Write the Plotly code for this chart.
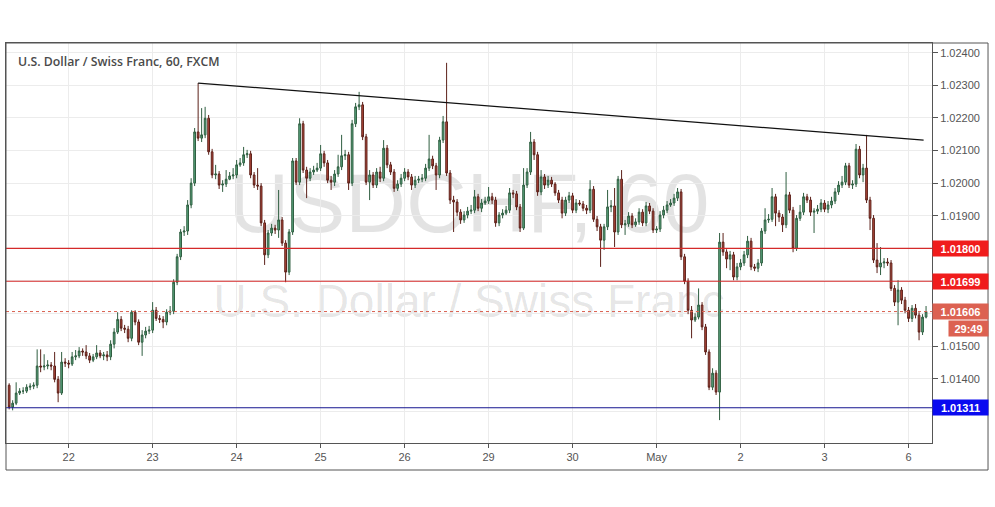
import plotly.graph_objects as go

# ---- hourly OHLC (USD/CHF, H1) ----
opens = [
 1.01380, 1.01313, 1.01325, 1.01356, 1.01362, 1.01362, 1.01374, 1.01377, 1.01380, 1.01439,
 1.01436, 1.01439, 1.01442, 1.01439, 1.01398, 1.01356, 1.01451, 1.01448, 1.01445, 1.01467,
 1.01470, 1.01485, 1.01482, 1.01470, 1.01457, 1.01467, 1.01479, 1.01470, 1.01473, 1.01467,
 1.01506, 1.01543, 1.01582, 1.01555, 1.01552, 1.01524, 1.01604, 1.01574, 1.01512, 1.01534,
 1.01546, 1.01549, 1.01610, 1.01585, 1.01582, 1.01574, 1.01604, 1.01607, 1.01696, 1.01774,
 1.01850, 1.01853, 1.01933, 1.02000, 1.02157, 1.02138, 1.02148, 1.02199, 1.02096, 1.02025,
 1.02028, 1.01994, 1.01997, 1.02012, 1.02022, 1.02025, 1.02056, 1.02062, 1.02087, 1.02090,
 1.02025, 1.01994, 1.01991, 1.01878, 1.01780, 1.01847, 1.01862, 1.01856, 1.01887, 1.01816,
 1.01727, 1.01850, 1.02068, 1.02003, 1.02182, 1.02040, 1.02015, 1.02034, 1.02040, 1.02046,
 1.02090, 1.02062, 1.02009, 1.02003, 1.02028, 1.02050, 1.02084, 1.02087, 1.02000, 1.02182,
 1.02234, 1.02240, 1.02142, 1.02003, 1.02025, 1.01994, 1.02034, 1.02015, 1.02107, 1.02056,
 1.02034, 1.01984, 1.01997, 1.02015, 1.02034, 1.02019, 1.01994, 1.02009, 1.02012, 1.02015,
 1.02046, 1.02074, 1.02053, 1.02025, 1.02132, 1.02188, 1.02031, 1.01948, 1.01942, 1.01911,
 1.01887, 1.01902, 1.01914, 1.01917, 1.01958, 1.01923, 1.01939, 1.01945, 1.01958, 1.01948,
 1.01878, 1.01902, 1.01908, 1.01917, 1.01970, 1.01967, 1.01927, 1.01862, 1.01994, 1.02034,
 1.02126, 1.02087, 1.01973, 1.02019, 1.01994, 1.02009, 1.01997, 1.01970, 1.01948, 1.01908,
 1.01948, 1.01961, 1.01917, 1.01939, 1.01936, 1.01923, 1.01917, 1.01981, 1.01889, 1.01866,
 1.01825, 1.01866, 1.01927, 1.01930, 1.01850, 1.02012, 1.01872, 1.01875, 1.01899, 1.01872,
 1.01881, 1.01911, 1.01878, 1.01930, 1.01914, 1.01856, 1.01859, 1.01902, 1.01917, 1.01933,
 1.01939, 1.01954, 1.01973, 1.01774, 1.01699, 1.01610, 1.01580, 1.01589, 1.01626, 1.01559,
 1.01482, 1.01374, 1.01417, 1.01359, 1.01819, 1.01789, 1.01767, 1.01780, 1.01712, 1.01743,
 1.01755, 1.01780, 1.01822, 1.01743, 1.01739, 1.01755, 1.01853, 1.01887, 1.01889, 1.01958,
 1.01908, 1.01896, 1.01872, 1.01964, 1.01917, 1.01800, 1.01892, 1.01911, 1.01958, 1.01948,
 1.01911, 1.01914, 1.01920, 1.01939, 1.01920, 1.01933, 1.01945, 1.01973, 1.01994, 1.02003,
 1.02053, 1.01994, 1.01997, 1.02104, 1.02025, 1.02046, 1.01948, 1.01892, 1.01764, 1.01743,
 1.01755, 1.01758, 1.01755, 1.01677, 1.01635, 1.01672, 1.01641, 1.01610, 1.01585, 1.01616,
 1.01595, 1.01543, 1.01589,
]
highs = [
 1.01386, 1.01334, 1.01389, 1.01371, 1.01374, 1.01383, 1.01386, 1.01389, 1.01490, 1.01490,
 1.01475, 1.01457, 1.01451, 1.01482, 1.01408, 1.01482, 1.01463, 1.01457, 1.01482, 1.01488,
 1.01497, 1.01493, 1.01503, 1.01479, 1.01476, 1.01503, 1.01488, 1.01482, 1.01485, 1.01518,
 1.01555, 1.01604, 1.01592, 1.01565, 1.01562, 1.01610, 1.01610, 1.01582, 1.01549, 1.01559,
 1.01562, 1.01635, 1.01620, 1.01595, 1.01592, 1.01613, 1.01623, 1.01705, 1.01783, 1.01859,
 1.01868, 1.01948, 1.02015, 1.02169, 1.02307, 1.02230, 1.02234, 1.02209, 1.02105, 1.02056,
 1.02037, 1.02009, 1.02040, 1.02034, 1.02046, 1.02071, 1.02077, 1.02111, 1.02102, 1.02099,
 1.02034, 1.02046, 1.02000, 1.01887, 1.01856, 1.01875, 1.01872, 1.01979, 1.01896, 1.01825,
 1.01859, 1.02077, 1.02077, 1.02199, 1.02191, 1.02050, 1.02046, 1.02053, 1.02062, 1.02117,
 1.02099, 1.02071, 1.02022, 1.02040, 1.02087, 1.02148, 1.02102, 1.02096, 1.02194, 1.02246,
 1.02280, 1.02249, 1.02151, 1.02040, 1.02034, 1.02046, 1.02050, 1.02132, 1.02117, 1.02065,
 1.02043, 1.02009, 1.02028, 1.02046, 1.02043, 1.02028, 1.02022, 1.02022, 1.02028, 1.02059,
 1.02148, 1.02084, 1.02062, 1.02142, 1.02206, 1.02369, 1.02040, 1.01961, 1.01951, 1.01920,
 1.01914, 1.01927, 1.01933, 1.01979, 1.01967, 1.01951, 1.01958, 1.01988, 1.01970, 1.01958,
 1.01911, 1.01920, 1.01930, 1.01985, 1.01979, 1.01976, 1.01936, 1.02046, 1.02046, 1.02157,
 1.02135, 1.02096, 1.02040, 1.02028, 1.02022, 1.02019, 1.02003, 1.01979, 1.01958, 1.01958,
 1.01973, 1.01970, 1.01951, 1.01948, 1.01945, 1.01933, 1.02009, 1.01991, 1.01899, 1.01875,
 1.01875, 1.01979, 1.01948, 1.01985, 1.02022, 1.02040, 1.01887, 1.01911, 1.01908, 1.01892,
 1.01923, 1.01920, 1.01942, 1.01939, 1.01923, 1.01868, 1.01914, 1.01930, 1.01945, 1.01951,
 1.01967, 1.01985, 1.01982, 1.01783, 1.01708, 1.01623, 1.01601, 1.01677, 1.01635, 1.01568,
 1.01490, 1.01432, 1.01426, 1.01847, 1.01847, 1.01797, 1.01792, 1.01789, 1.01755, 1.01767,
 1.01792, 1.01838, 1.01832, 1.01752, 1.01767, 1.01862, 1.01923, 1.01905, 1.01985, 1.01967,
 1.01917, 1.01905, 1.02034, 1.01973, 1.01927, 1.01902, 1.01933, 1.01970, 1.01967, 1.01958,
 1.01923, 1.01933, 1.01951, 1.01948, 1.01945, 1.01958, 1.01985, 1.02006, 1.02022, 1.02062,
 1.02062, 1.02009, 1.02120, 1.02114, 1.02059, 1.02148, 1.01958, 1.01902, 1.01816, 1.01804,
 1.01770, 1.01770, 1.01764, 1.01687, 1.01702, 1.01681, 1.01651, 1.01620, 1.01626, 1.01629,
 1.01604, 1.01598, 1.01623,
]
lows = [
 1.01306, 1.01303, 1.01319, 1.01350, 1.01353, 1.01356, 1.01365, 1.01368, 1.01371, 1.01420,
 1.01426, 1.01429, 1.01426, 1.01389, 1.01328, 1.01350, 1.01436, 1.01432, 1.01439, 1.01457,
 1.01463, 1.01470, 1.01460, 1.01448, 1.01451, 1.01460, 1.01463, 1.01457, 1.01454, 1.01457,
 1.01493, 1.01537, 1.01546, 1.01540, 1.01512, 1.01515, 1.01564, 1.01503, 1.01470, 1.01524,
 1.01537, 1.01540, 1.01577, 1.01571, 1.01555, 1.01564, 1.01595, 1.01598, 1.01687, 1.01764,
 1.01838, 1.01841, 1.01923, 1.01991, 1.02129, 1.02126, 1.02138, 1.02087, 1.02015, 1.02012,
 1.01982, 1.01973, 1.01988, 1.02009, 1.02012, 1.02015, 1.02050, 1.02053, 1.02077, 1.02015,
 1.01985, 1.01979, 1.01868, 1.01749, 1.01770, 1.01838, 1.01844, 1.01832, 1.01807, 1.01696,
 1.01718, 1.01841, 1.01994, 1.01994, 1.02031, 1.01954, 1.02006, 1.02025, 1.02034, 1.02037,
 1.02050, 1.02000, 1.01979, 1.01991, 1.02019, 1.02040, 1.02071, 1.01979, 1.01991, 1.02172,
 1.02224, 1.02132, 1.01994, 1.01948, 1.01985, 1.01985, 1.02003, 1.02006, 1.02046, 1.02025,
 1.01973, 1.01976, 1.01988, 1.02006, 1.02009, 1.01979, 1.01985, 1.02000, 1.02003, 1.02006,
 1.02037, 1.02043, 1.01979, 1.02015, 1.02123, 1.02022, 1.01936, 1.01850, 1.01899, 1.01875,
 1.01878, 1.01892, 1.01905, 1.01908, 1.01914, 1.01911, 1.01933, 1.01936, 1.01936, 1.01866,
 1.01868, 1.01892, 1.01902, 1.01908, 1.01954, 1.01917, 1.01850, 1.01856, 1.01985, 1.02025,
 1.02071, 1.01961, 1.01963, 1.01982, 1.01985, 1.01988, 1.01961, 1.01939, 1.01892, 1.01899,
 1.01939, 1.01908, 1.01908, 1.01930, 1.01914, 1.01905, 1.01908, 1.01881, 1.01853, 1.01743,
 1.01795, 1.01856, 1.01911, 1.01804, 1.01841, 1.01862, 1.01841, 1.01866, 1.01862, 1.01866,
 1.01872, 1.01868, 1.01868, 1.01905, 1.01847, 1.01847, 1.01850, 1.01892, 1.01908, 1.01927,
 1.01930, 1.01945, 1.01764, 1.01690, 1.01598, 1.01524, 1.01574, 1.01582, 1.01549, 1.01473,
 1.01365, 1.01365, 1.01350, 1.01273, 1.01777, 1.01739, 1.01733, 1.01702, 1.01702, 1.01733,
 1.01746, 1.01770, 1.01733, 1.01730, 1.01727, 1.01746, 1.01844, 1.01878, 1.01881, 1.01868,
 1.01881, 1.01850, 1.01862, 1.01908, 1.01788, 1.01792, 1.01884, 1.01902, 1.01939, 1.01899,
 1.01847, 1.01905, 1.01911, 1.01911, 1.01908, 1.01923, 1.01936, 1.01964, 1.01985, 1.01994,
 1.01985, 1.01982, 1.01988, 1.02015, 1.02003, 1.01939, 1.01856, 1.01755, 1.01724, 1.01718,
 1.01739, 1.01746, 1.01669, 1.01623, 1.01564, 1.01629, 1.01601, 1.01574, 1.01574, 1.01585,
 1.01518, 1.01534, 1.01585,
]
closes = [
 1.01313, 1.01325, 1.01356, 1.01362, 1.01362, 1.01374, 1.01377, 1.01380, 1.01439, 1.01436,
 1.01439, 1.01442, 1.01439, 1.01398, 1.01356, 1.01451, 1.01448, 1.01445, 1.01467, 1.01470,
 1.01485, 1.01482, 1.01470, 1.01457, 1.01467, 1.01479, 1.01470, 1.01473, 1.01467, 1.01506,
 1.01543, 1.01582, 1.01555, 1.01552, 1.01524, 1.01604, 1.01574, 1.01512, 1.01534, 1.01546,
 1.01549, 1.01610, 1.01585, 1.01582, 1.01574, 1.01604, 1.01607, 1.01696, 1.01774, 1.01850,
 1.01853, 1.01933, 1.02000, 1.02157, 1.02138, 1.02148, 1.02199, 1.02096, 1.02025, 1.02028,
 1.01994, 1.01997, 1.02012, 1.02022, 1.02025, 1.02056, 1.02062, 1.02087, 1.02090, 1.02025,
 1.01994, 1.01991, 1.01878, 1.01780, 1.01847, 1.01862, 1.01856, 1.01887, 1.01816, 1.01727,
 1.01850, 1.02068, 1.02003, 1.02182, 1.02040, 1.02015, 1.02034, 1.02040, 1.02046, 1.02090,
 1.02062, 1.02009, 1.02003, 1.02028, 1.02050, 1.02084, 1.02087, 1.02000, 1.02182, 1.02234,
 1.02240, 1.02142, 1.02003, 1.02025, 1.01994, 1.02034, 1.02015, 1.02107, 1.02056, 1.02034,
 1.01984, 1.01997, 1.02015, 1.02034, 1.02019, 1.01994, 1.02009, 1.02012, 1.02015, 1.02046,
 1.02074, 1.02053, 1.02025, 1.02132, 1.02188, 1.02031, 1.01948, 1.01942, 1.01911, 1.01887,
 1.01902, 1.01914, 1.01917, 1.01958, 1.01923, 1.01939, 1.01945, 1.01958, 1.01948, 1.01878,
 1.01902, 1.01908, 1.01917, 1.01970, 1.01967, 1.01927, 1.01862, 1.01994, 1.02034, 1.02126,
 1.02087, 1.01973, 1.02019, 1.01994, 1.02009, 1.01997, 1.01970, 1.01948, 1.01908, 1.01948,
 1.01961, 1.01917, 1.01939, 1.01936, 1.01923, 1.01917, 1.01981, 1.01889, 1.01866, 1.01825,
 1.01866, 1.01927, 1.01930, 1.01850, 1.02012, 1.01872, 1.01875, 1.01899, 1.01872, 1.01881,
 1.01911, 1.01878, 1.01930, 1.01914, 1.01856, 1.01859, 1.01902, 1.01917, 1.01933, 1.01939,
 1.01954, 1.01973, 1.01774, 1.01699, 1.01610, 1.01580, 1.01589, 1.01626, 1.01559, 1.01482,
 1.01374, 1.01417, 1.01359, 1.01819, 1.01789, 1.01767, 1.01780, 1.01712, 1.01743, 1.01755,
 1.01780, 1.01822, 1.01743, 1.01739, 1.01755, 1.01853, 1.01887, 1.01889, 1.01958, 1.01908,
 1.01896, 1.01872, 1.01964, 1.01917, 1.01800, 1.01892, 1.01911, 1.01958, 1.01948, 1.01911,
 1.01914, 1.01920, 1.01939, 1.01920, 1.01933, 1.01945, 1.01973, 1.01994, 1.02003, 1.02053,
 1.01994, 1.01997, 1.02104, 1.02025, 1.02046, 1.01948, 1.01892, 1.01764, 1.01743, 1.01755,
 1.01758, 1.01755, 1.01677, 1.01635, 1.01672, 1.01641, 1.01610, 1.01585, 1.01616, 1.01595,
 1.01543, 1.01589, 1.01606,
]

# ---- axis labels ----
day_ticks = [17, 41, 65, 89, 113, 137, 161, 185, 209, 233, 257]
day_labels = ["22", "23", "24", "25", "26", "29", "30", "May", "2", "3", "6"]
price_ticks = [1.013, 1.014, 1.015, 1.016, 1.017, 1.018, 1.019, 1.020, 1.021, 1.022, 1.023, 1.024]
# labels hidden where a price marker box sits on the axis
price_labels = ["", "1.01400", "1.01500", "", "", "", "1.01900", "1.02000",
                "1.02100", "1.02200", "1.02300", "1.02400"]

# ---- drawings ----
trend_x = [54, 261.3]
trend_y = [1.02307, 1.02132]
resistance_levels = [1.01800, 1.01699]
support_level = 1.01311
last_price = 1.01606
countdown = "29:49"

x_idx = list(range(len(closes)))

fig = go.Figure()
fig.add_trace(go.Candlestick(
    x=x_idx, open=opens, high=highs, low=lows, close=closes,
    increasing=dict(fillcolor="#5aa67e", line=dict(color="#2f5e40", width=1)),
    decreasing=dict(fillcolor="#b5483c", line=dict(color="#5c2019", width=1)),
    whiskerwidth=0, hoverinfo="skip", showlegend=False,
))
fig.add_trace(go.Scatter(
    x=trend_x, y=trend_y, mode="lines",
    line=dict(color="#111111", width=1.3), hoverinfo="skip", showlegend=False,
))

shapes = []
# watermark (below the candles)
shapes.append(dict(type="rect", xref="paper", yref="paper", x0=0.15, x1=0.85, y0=0.52, y1=0.72,
                   line=dict(width=0), fillcolor="rgba(0,0,0,0)", layer="between",
                   label=dict(text="USDCHF, 60", textposition="middle center",
                              font=dict(family="Liberation Sans, Arial", size=84, color="rgba(0,0,0,0.11)"))))
shapes.append(dict(type="rect", xref="paper", yref="paper", x0=0.15, x1=0.85, y0=0.30, y1=0.43,
                   line=dict(width=0), fillcolor="rgba(0,0,0,0)", layer="between",
                   label=dict(text="U.S. Dollar / Swiss Franc", textposition="middle center",
                              font=dict(family="Liberation Sans, Arial", size=46, color="rgba(0,0,0,0.11)"))))
for lvl in resistance_levels:
    shapes.append(dict(type="line", xref="paper", x0=0, x1=1, yref="y", y0=lvl, y1=lvl,
                       line=dict(color="#d42a2a", width=1.2), layer="above"))
shapes.append(dict(type="line", xref="paper", x0=0, x1=1, yref="y", y0=support_level, y1=support_level,
                   line=dict(color="#14148f", width=1.2), layer="above"))
shapes.append(dict(type="line", xref="paper", x0=0, x1=1, yref="y", y0=last_price, y1=last_price,
                   line=dict(color="#d9604f", width=1, dash="dot"), layer="above"))
# outer frame around plot + axes
shapes.append(dict(type="rect", xref="paper", yref="paper", x0=0, x1=1.0605, y0=-0.0675, y1=1,
                   line=dict(color="#555555", width=1), fillcolor="rgba(0,0,0,0)", layer="above"))

annotations = [
    dict(xref="paper", yref="paper", x=0.011, y=0.98, xanchor="left", yanchor="top",
         text="U.S. Dollar / Swiss Franc, 60, FXCM", showarrow=False,
         font=dict(family="Open Sans", size=12.3, color="#4a4a4a", weight=600)),
]
box_specs = [(resistance_levels[0], "#f01c1c"), (resistance_levels[1], "#f01c1c"),
             (last_price, "#dc6151"), (support_level, "#0a0af0")]
for val, col in box_specs:
    annotations.append(dict(xref="paper", yref="y", x=1, y=val, xanchor="left", yanchor="middle",
                            text="<b>%.5f</b>" % val, showarrow=False, bgcolor=col,
                            width=55, height=15, borderpad=0, xshift=0,
                            font=dict(family="Liberation Sans, Arial", size=11, color="white")))
annotations.append(dict(xref="paper", yref="y", x=1, y=last_price, xanchor="left", yanchor="middle",
                        text="<b>%s</b>" % countdown, showarrow=False, bgcolor="#dc6151",
                        width=39, height=15, borderpad=0, xshift=16, yshift=-17,
                        font=dict(family="Liberation Sans, Arial", size=11, color="white")))

fig.update_layout(
    width=995, height=507,
    margin=dict(l=6, r=63, t=43, b=64),
    paper_bgcolor="white", plot_bgcolor="white",
    showlegend=False,
    shapes=shapes, annotations=annotations,
    xaxis=dict(range=[-0.9, 263.7], tickmode="array", tickvals=day_ticks, ticktext=day_labels,
               showgrid=True, gridcolor="#ececec", gridwidth=1, zeroline=False,
               ticks="outside", ticklen=4, tickcolor="#555555",
               showline=True, linecolor="#555555", linewidth=1, mirror=True,
               tickfont=dict(family="Liberation Sans, Arial", size=11, color="#555555"),
               rangeslider=dict(visible=False), automargin=False, fixedrange=True),
    yaxis=dict(range=[1.012028, 1.024298], side="right", tickmode="array", tickvals=price_ticks,
               ticktext=price_labels, showgrid=True, gridcolor="#ececec", gridwidth=1, zeroline=False,
               ticks="outside", ticklen=5, tickcolor="#555555",
               showline=True, linecolor="#555555", linewidth=1, mirror=True,
               tickfont=dict(family="Liberation Sans, Arial", size=11, color="#555555"),
               automargin=False, fixedrange=True),
)

fig.write_html("out.html", config={"displayModeBar": False},
               post_script="document.body.style.margin='0px';")
